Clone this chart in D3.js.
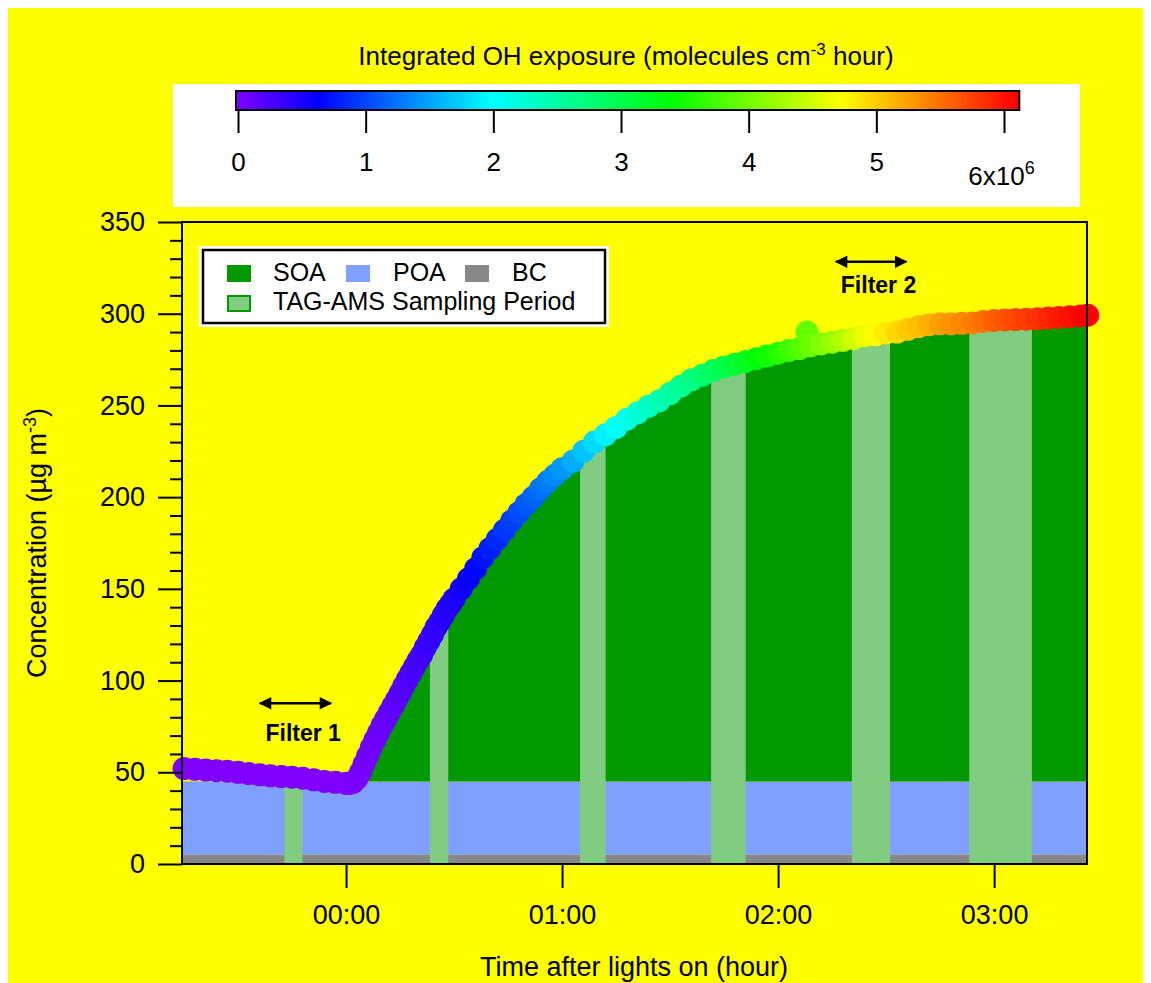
<!DOCTYPE html>
<html>
<head>
<meta charset="utf-8">
<script src="https://cdn.jsdelivr.net/npm/d3@7"></script>
<style>
  body { margin: 0; background: #fff; }
  text { font-family: "Liberation Sans", Arial, sans-serif; }
</style>
</head>
<body>
<div id="chart"></div>
<script>
"use strict"
// time after lights on (minutes), total concentration (ug m-3), OH exposure (1e6 molecules cm-3 h)
var timeMin = [-45,-42,-39,-36,-33,-30,-27,-24,-21,-18,-15,-12,-9,-6,-3,0,
	1,2,3,4,5,6,7,8,9,10,11,12,13,14,15,16,17,18,19,20,21,22,23,24,25,26,27,28,29,30,
	32,34,36,38,40,42,44,46,48,50,52,54,56,58,60,
	63,66,69,72,75,78,81,84,87,90,93,96,99,102,105,108,111,114,117,120,123,126,
	128,
	129,132,135,138,141,144,147,150,153,156,159,162,165,168,171,174,177,180,183,186,189,192,195,198,201,204,
	206];
var concTotal = [52.0,51.6,51.2,50.9,50.6,50.0,49.3,48.6,48.1,47.7,47.3,46.8,45.9,45.0,44.5,44.0,
	44.0,44.5,46.5,50.0,54.5,59.0,63.5,67.5,71.5,75.5,79.0,82.5,86.0,89.5,93.0,97.0,100.5,104.0,107.5,111.0,114.0,118.0,121.5,125.0,129.0,132.0,135.5,139.0,141.5,144.5,
	150.0,155.5,161.0,167.0,172.0,177.0,182.0,187.0,191.5,196.0,200.0,204.5,208.5,212.0,215.5,
	219.5,225.0,230.0,234.0,238.0,242.5,246.0,249.5,252.5,256.5,260.5,264.0,266.5,269.0,271.0,272.5,274.0,275.5,277.0,278.5,280.0,281.0,
	290.0,
	282.5,283.5,284.5,285.5,286.5,288.0,288.5,289.5,290.0,291.5,293.0,294.0,294.5,294.5,294.8,295.0,295.8,296.3,296.6,296.8,297.0,297.2,297.6,298.0,298.4,298.8,
	299.2];
var ohExposure = [0,0,0,0,0,0,0,0,0,0,0,0,0,0,0,0,
	0.01,0.02,0.03,0.04,0.05,0.06,0.08,0.09,0.10,0.12,0.13,0.15,0.16,0.18,0.20,0.22,0.24,0.26,0.28,0.30,0.32,0.34,0.36,0.38,0.40,0.42,0.44,0.46,0.48,0.50,
	0.56,0.61,0.67,0.73,0.80,0.86,0.92,0.98,1.04,1.10,1.17,1.24,1.31,1.38,1.45,
	1.57,1.69,1.81,1.93,2.05,2.14,2.23,2.32,2.41,2.50,2.59,2.69,2.79,2.89,3.00,3.12,3.24,3.36,3.48,3.60,3.72,3.84,
	3.92,
	3.96,4.08,4.20,4.35,4.50,4.65,4.76,4.85,4.94,5.02,5.08,5.16,5.25,5.31,5.37,5.43,5.51,5.60,5.66,5.72,5.78,5.84,5.90,5.96,6.02,6.08,
	6.10];

var bcConc = 5, poaConc = 40;
var samplingStart = [-17.1, 23.3, 65.0, 101.4, 140.5, 173.1],
	samplingEnd = [-12.1, 28.4, 72.1, 111.0, 151.1, 190.5];

var filterNames = ["Filter 1", "Filter 2"],
	filterFrom = [-23.9, 136.1],
	filterTo = [-4.2, 155.6],
	filterLevel = [87.6, 328.3],
	filterTextTime = [-11.9, 147.9],
	filterTextLevel = [67.2, 311.1];

var timeTicks = [0, 60, 120, 180],
	timeTickLabels = ["00:00", "01:00", "02:00", "03:00"];
var concTicks = [0, 50, 100, 150, 200, 250, 300, 350];
var ohTicks = [0, 1, 2, 3, 4, 5, 6];
var ohColorStops = [0, 0.64, 2.0, 3.41, 4.74, 6.1],
	ohColors = ["#8000ff", "#0000ff", "#00ffff", "#00ff00", "#ffff00", "#ff0000"];

var width = 1151, height = 983;
var cSOA = "#009900", cPOA = "#80a0ff", cBC = "#888888", cTAG = "#80cc80";

var svg = d3.select("#chart").append("svg")
	.attr("width", width)
	.attr("height", height);

svg.append("rect").attr("x", 8).attr("y", 8).attr("width", 1135).attr("height", 975).style("fill", "#ffff00");

var x = d3.scaleLinear().domain([-45.56, 205.8]).range([182, 1087]);
var y = d3.scaleLinear().domain([0, 350]).range([864, 222]);
var color = d3.scaleLinear().domain(ohColorStops).range(ohColors);

var pts = timeMin.map(function(t, i) { return {t: t, c: concTotal[i], oh: ohExposure[i]}; });

// ---- colour bar panel
svg.append("rect").attr("x", 173).attr("y", 84).attr("width", 907).attr("height", 123).style("fill", "#fff");
var cb = d3.scaleLinear().domain([0, 6]).range([238, 1004]);
var grad = svg.append("defs").append("linearGradient").attr("id", "ohgrad");
var cbMax = 6.12;
ohColorStops.concat([cbMax]).forEach(function(v) {
	grad.append("stop").attr("offset", (v / cbMax * 100) + "%").attr("stop-color", color(Math.min(v, 6.1)));
});
svg.append("rect")
	.attr("x", cb(0) - 2).attr("y", 91)
	.attr("width", cb(cbMax) - cb(0) + 2).attr("height", 19)
	.style("fill", "url(#ohgrad)").style("stroke", "#000").style("stroke-width", 2);
var cbAxis = svg.append("g").attr("transform", "translate(0,110)")
	.call(d3.axisBottom(cb).tickValues(ohTicks).tickSize(23).tickPadding(20).tickFormat(d3.format("d")));
cbAxis.select(".domain").remove();
cbAxis.selectAll("line").style("stroke-width", 2);
cbAxis.selectAll("text").style("font-size", "26px").attr("fill", "#000");
var lastLab = cbAxis.selectAll(".tick text").filter(function(d) { return d === 6; });
lastLab.text(null).attr("dx", -3).attr("y", 57);
lastLab.append("tspan").text("6x10");
lastLab.append("tspan").attr("dy", -11).style("font-size", "18px").text("6");

var cbTitle = svg.append("text").attr("x", 626).attr("y", 65).attr("text-anchor", "middle").style("font-size", "26px");
cbTitle.append("tspan").text("Integrated OH exposure (molecules cm");
cbTitle.append("tspan").attr("dy", -10).style("font-size", "17px").text("-3");
cbTitle.append("tspan").attr("dy", 10).text(" hour)");

// ---- stacked areas
var tExtent = x.domain();
svg.append("rect").attr("x", x(tExtent[0])).attr("y", y(bcConc + poaConc))
	.attr("width", x(tExtent[1]) - x(tExtent[0])).attr("height", y(bcConc) - y(bcConc + poaConc))
	.style("fill", cPOA);
svg.append("rect").attr("x", x(tExtent[0])).attr("y", y(bcConc))
	.attr("width", x(tExtent[1]) - x(tExtent[0])).attr("height", y(0) - y(bcConc))
	.style("fill", cBC);

var soaPts = pts.filter(function(d) { return d.t >= 0; });
soaPts.push({t: tExtent[1], c: concTotal[concTotal.length - 1]});
var soaArea = d3.area()
	.x(function(d) { return x(d.t); })
	.y0(y(bcConc + poaConc))
	.y1(function(d) { return y(Math.max(bcConc + poaConc, d.c)); });
svg.append("path").datum(soaPts).attr("d", soaArea).style("fill", cSOA);

// sampling periods, clipped under the total mass trace
var totArea = d3.area().x(function(d) { return x(d.t); }).y0(y(0)).y1(function(d) { return y(d.c); });
svg.select("defs").append("clipPath").attr("id", "totclip")
	.append("path").datum(pts).attr("d", totArea);
svg.append("g").attr("clip-path", "url(#totclip)")
	.selectAll("rect").data(samplingStart).enter().append("rect")
	.attr("x", function(d) { return x(d); })
	.attr("width", function(d, i) { return x(samplingEnd[i]) - x(d); })
	.attr("y", y(350)).attr("height", y(0) - y(350))
	.style("fill", cTAG);

// ---- total mass coloured by OH exposure
svg.append("g").selectAll("circle").data(pts).enter().append("circle")
	.attr("cx", function(d) { return x(d.t); })
	.attr("cy", function(d) { return y(d.c); })
	.attr("r", 11.5)
	.style("fill", function(d) { return color(d.oh); });

// ---- axes
var minorTicks = d3.range(0, 351, 10).filter(function(v) { return v % 50 !== 0; });
var yMinor = svg.append("g").attr("transform", "translate(182,0)")
	.call(d3.axisLeft(y).tickValues(minorTicks).tickSize(12).tickFormat(""));
var yMajor = svg.append("g").attr("transform", "translate(182,0)")
	.call(d3.axisLeft(y).tickValues(concTicks).tickSize(24).tickPadding(13));
var xAxis = svg.append("g").attr("transform", "translate(0,864)")
	.call(d3.axisBottom(x).tickValues(timeTicks).tickSize(24).tickPadding(17)
		.tickFormat(function(d, i) { return timeTickLabels[i]; }));
[yMinor, yMajor, xAxis].forEach(function(g) {
	g.selectAll(".domain").remove();
	g.selectAll("line").style("stroke-width", 2);
	g.selectAll("text").style("font-size", "27px").attr("fill", "#000");
});
svg.append("rect").attr("x", 182).attr("y", 222).attr("width", 1087 - 182).attr("height", 864 - 222)
	.style("fill", "none").style("stroke", "#000").style("stroke-width", 2);

svg.append("text").attr("x", 634).attr("y", 976).attr("text-anchor", "middle")
	.style("font-size", "27px").text("Time after lights on (hour)");
var yTitle = svg.append("text").attr("transform", "translate(46,543) rotate(-90)")
	.attr("text-anchor", "middle").style("font-size", "27px");
yTitle.append("tspan").text("Concentration (\u00b5g m");
yTitle.append("tspan").attr("dy", -10).style("font-size", "18px").text("-3");
yTitle.append("tspan").attr("dy", 10).text(")");

// ---- filter annotations
var defs = svg.select("defs");
defs.append("marker").attr("id", "ahead").attr("viewBox", "0 0 10 10").attr("refX", 9).attr("refY", 5)
	.attr("markerWidth", 6).attr("markerHeight", 5).attr("orient", "auto-start-reverse")
	.append("path").attr("d", "M0,0L10,5L0,10Z").style("fill", "#000");
filterNames.forEach(function(name, i) {
	svg.append("line")
		.attr("x1", x(filterFrom[i])).attr("x2", x(filterTo[i]))
		.attr("y1", y(filterLevel[i])).attr("y2", y(filterLevel[i]))
		.style("stroke", "#000").style("stroke-width", 2.5)
		.attr("marker-start", "url(#ahead)").attr("marker-end", "url(#ahead)");
	svg.append("text").attr("x", x(filterTextTime[i])).attr("y", y(filterTextLevel[i]))
		.attr("text-anchor", "middle").style("font-size", "23px").style("font-weight", "bold")
		.text(name);
});

// ---- legend
var lg = svg.append("g");
lg.append("rect").attr("x", 199).attr("y", 246).attr("width", 410).attr("height", 81).style("fill", "#fff");
lg.append("rect").attr("x", 203).attr("y", 250).attr("width", 402).attr("height", 73)
	.style("fill", "none").style("stroke", "#000").style("stroke-width", 2.5);
var legendItems = [
	{label: "SOA", fill: cSOA, sx: 227, tx: 273, row: 0},
	{label: "POA", fill: cPOA, sx: 346, tx: 393, row: 0},
	{label: "BC", fill: cBC, sx: 465, tx: 512, row: 0},
	{label: "TAG-AMS Sampling Period", fill: cTAG, sx: 227, tx: 273, row: 1, stroke: cSOA}
];
legendItems.forEach(function(d) {
	var top = d.row === 0 ? 265 : 295;
	lg.append("rect").attr("x", d.sx + (d.stroke ? 1 : 0)).attr("y", top + (d.stroke ? 1 : 0))
		.attr("width", d.stroke ? 22 : 24).attr("height", d.stroke ? 15 : 17)
		.style("fill", d.fill).style("stroke", d.stroke || "none").style("stroke-width", 2);
	lg.append("text").attr("x", d.tx).attr("y", d.row === 0 ? 281 : 310)
		.style("font-size", "25px").text(d.label);
});
</script>
</body>
</html>
